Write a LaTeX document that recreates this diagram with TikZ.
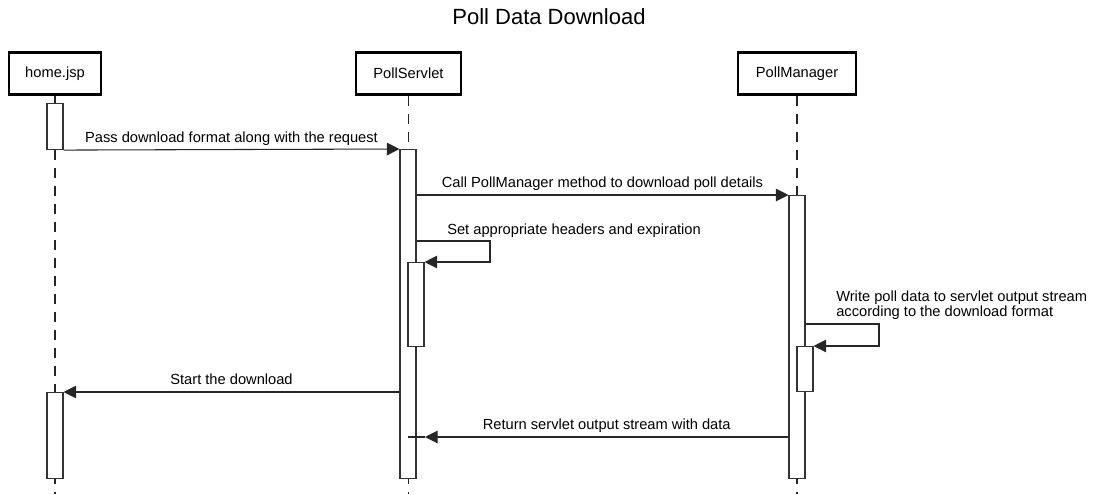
\documentclass[tikz,border=0pt]{standalone}
\usepackage{fontspec}
\setmainfont{Liberation Sans}
\usetikzlibrary{arrows.meta, positioning}

\begin{document}
\begin{tikzpicture}[x=0.75pt, y=-0.75pt, font=\fontsize{11}{11.25}\selectfont,
        head/.style={rectangle, draw=black, line width=1.6pt, fill=white, minimum height=31.5pt, inner sep=0pt},
        actbar/.style={rectangle, draw=black!80, line width=0.8pt, fill=white, minimum width=12pt, inner sep=0pt, anchor=north},
        lifeline/.style={draw=black!85, line width=0.9pt, dash pattern=on 8pt off 5.5pt},
        msg/.style={draw=black!85, line width=0.8pt, -{Triangle[length=9.5pt, width=9.5pt]}},
        msglabel/.style={text height=8pt, text depth=2.5pt, inner sep=2.5pt}]

      \useasboundingbox (0,0) rectangle (1098,494);

      % 1. Title
      \node[font=\fontsize{16.5}{19}\selectfont] (title) at (549,17) {Poll Data Download};

      % 2. Lifeline heads
      \node [head, minimum width=69pt] (home) at (55,73.5) {home.jsp};
      \node [head, minimum width=79pt] (servlet) at (408.5,73.5) {PollServlet};
      \node [head, minimum width=89pt] (manager) at (797,73.5) {PollManager};

      % 3. Dashed lifelines
      \draw [lifeline] (home.south) -- (home.south |- 0,494);
      \draw [lifeline] (servlet.south) -- (servlet.south |- 0,494);
      \draw [lifeline] (manager.south) -- (manager.south |- 0,494);

      % 4. Activation bars
      \node [actbar, minimum height=34.5pt] (ha1) at (55,103) {};
      \node [actbar, minimum height=64.5pt] (ha2) at (55,392) {};
      \node [actbar, minimum height=246.75pt] (sa1) at (408,149) {};
      \node [actbar, minimum height=63pt] (sa2) at (416,262) {};
      \node [actbar, minimum height=212.25pt] (pm1) at (797,195) {};
      \node [actbar, minimum height=33.75pt] (pm2) at (805,346) {};

      % 5. Messages
      \draw [msg] (ha1.south east) -- node[msglabel, above] (lpass) {Pass download format along with the request} (sa1.north west);
      \draw [msg] (sa1.east |- pm1.north west) -- node[msglabel, above] (lcall) {Call PollManager method to download poll details} (pm1.north west);

      \draw [msg] (sa1.east |- 0,241) -| (490,262) -- (sa2.north east);
      \node [msglabel, anchor=south west, inner xsep=0pt] (lhead) at (447,241) {Set appropriate headers and expiration};

      \draw [msg] (pm1.east |- 0,324) -| (879,346) -- (pm2.north east);
      \node [anchor=south west, align=left, inner xsep=0pt, inner ysep=3pt] (lwrite) at (836,324) {Write poll data to servlet output stream\\according to the download format};

      \draw [msg] (sa1.west |- ha2.north east) -- node[msglabel, above] (lstart) {Start the download} (ha2.north east);

      \coordinate (rettip) at (425,437);
      \draw [msg] (pm1.west |- rettip) -- node[msglabel, above] (lret) {Return servlet output stream with data} (rettip);
      \draw [draw=black!85, line width=0.8pt] (rettip) -- (sa1.center |- rettip);
    \end{tikzpicture}
\end{document}
